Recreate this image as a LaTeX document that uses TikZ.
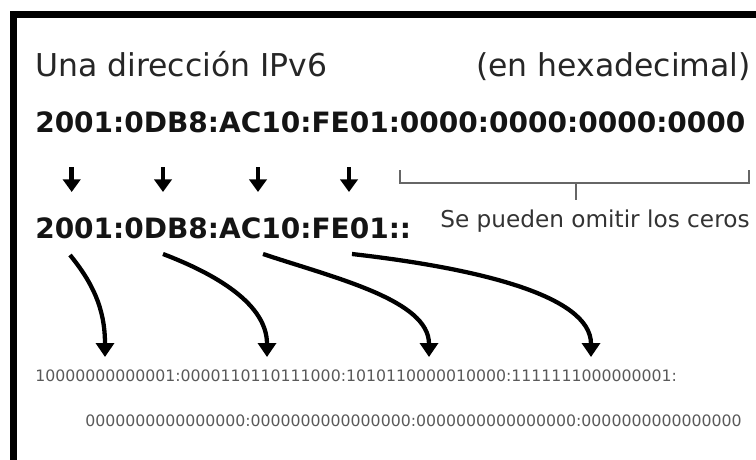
\documentclass[tikz,border=0pt]{standalone}
\usepackage{fontspec}
\setmainfont{DejaVu Sans}
\usetikzlibrary{arrows.meta}
\begin{document}
\begin{tikzpicture}[x=0.75pt,y=-0.75pt,
  txt/.style={inner sep=0pt, anchor=base west},
  heading/.style={txt, font=\fontsize{23.6}{28}\selectfont, text=black!85},
  hexaddr/.style={txt, font=\fontsize{21}{25}\selectfont\bfseries, text=black!92},
  note/.style={txt, font=\fontsize{17.4}{21}\selectfont, text=black!80},
  bits/.style={txt, font=\fontsize{11.8}{14}\selectfont, text=black!65},
  shortarrow/.style={line width=3.6pt, -{Triangle[width=13pt,length=9.5pt]}},
  bigarrow/.style={line width=3.2pt, -{Triangle[width=13.5pt,length=10.5pt]}},
  bracket/.style={draw=black!60, line width=1.5pt},
]
\useasboundingbox (0,0) rectangle (756,460);
\clip (0,0) rectangle (756,460);
\fill[white] (0,0) rectangle (756,460);
% frame running off the right and bottom edges
\draw[line width=5.25pt] (13.5,15) rectangle (820,520);

% headings
\node[heading] (title) at (35,76) {Una dirección IPv6};
\node[heading] (base) at (476,76) {(en hexadecimal)};

% full and shortened addresses
\node[hexaddr] (full) at (35,132) {2001:0DB8:AC10:FE01:0000:0000:0000:0000};
\node[hexaddr] (short) at (35,238) {2001:0DB8:AC10:FE01::};
\node[note] (omit) at (440,227) {Se pueden omitir los ceros};

% binary form
\node[bits] (bin1) at (35,381) {10000000000001:0000110110111000:1010110000010000:1111111000000001:};
\node[bits] (bin2) at (85,426) {0000000000000000:0000000000000000:0000000000000000:0000000000000000};

% short arrows between the two hexadecimal rows
\foreach \i/\x in {1/71.7,2/163,3/258,4/349}{
  \coordinate (s\i) at (\x,167);
  \coordinate (e\i) at (\x,192);
  \draw[shortarrow] (s\i) -- (e\i);
}

% bracket over the zero groups
\coordinate (bl) at (400,170);
\coordinate (br) at (749,170);
\coordinate (bm) at (576,200);
\draw[bracket] (bl) -- (400,183) -- (749,183) -- (br);
\draw[bracket] (576,183) -- (bm);

% curved arrows from each group to its binary value
\coordinate (c1a) at (70,255);  \coordinate (c1b) at (105,357);
\coordinate (c2a) at (163,254); \coordinate (c2b) at (267,357);
\coordinate (c3a) at (263,254); \coordinate (c3b) at (429,357);
\coordinate (c4a) at (352,254); \coordinate (c4b) at (591,357);
\draw[bigarrow] (c1a) .. controls (92,282) and (105,308) .. (c1b);
\draw[bigarrow] (c2a) .. controls (205,270) and (267,300) .. (c2b);
\draw[bigarrow] (c3a) .. controls (335,278) and (429,300) .. (c3b);
\draw[bigarrow] (c4a) .. controls (475,268) and (591,295) .. (c4b);
\end{tikzpicture}
\end{document}
